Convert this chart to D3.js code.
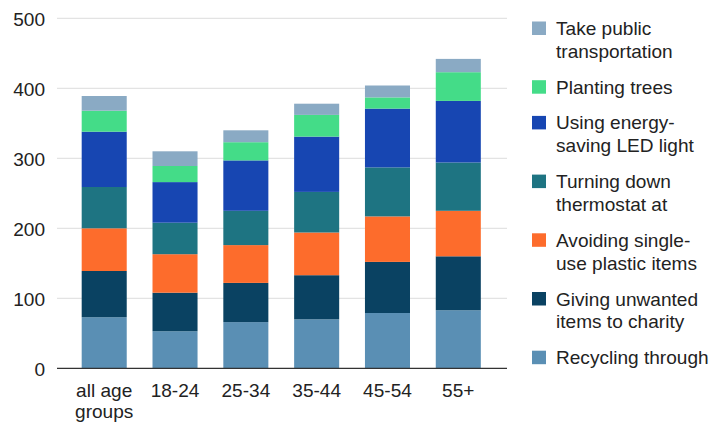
<!DOCTYPE html>
<html>
<head>
<meta charset="utf-8">
<script src="https://cdn.jsdelivr.net/npm/d3@7"></script>
<style>
  html, body { margin: 0; padding: 0; background: #fff; }
  svg { display: block; font-family: "Liberation Sans", Arial, sans-serif; }
</style>
</head>
<body>
<svg id="chart" width="711" height="425"></svg>
<script>
// Age groups along the x axis (label lines as drawn under each bar)
const categories = ["all age groups", "18-24", "25-34", "35-44", "45-54", "55+"];
const categoryLines = [["all age", "groups"], ["18-24"], ["25-34"], ["35-44"], ["45-54"], ["55+"]];

// Series values, bottom of the stack first
const recycling  = [73, 53, 66, 70, 79, 83];
const charity    = [66, 55, 56, 63, 73, 77];
const plastic    = [61, 55, 54, 61, 65, 65];
const thermostat = [59, 45, 49, 58, 70, 69];
const ledLight   = [79, 58, 72, 79, 84, 88];
const trees      = [30, 23, 26, 31, 16, 41];
const transport  = [21, 21, 17, 16, 17, 19];

const seriesKeys = ["recycling", "charity", "plastic", "thermostat", "ledLight", "trees", "transport"];
const seriesValues = [recycling, charity, plastic, thermostat, ledLight, trees, transport];
const seriesColors = ["#5a8fb4", "#0a4262", "#fd6c2c", "#1e7482", "#1746b2", "#44dc88", "#8aaac4"];

// Legend, top to bottom (reverse of stacking order)
const legendKeys = ["transport", "trees", "ledLight", "thermostat", "plastic", "charity", "recycling"];
const legendLines = [
  ["Take public", "transportation"],
  ["Planting trees"],
  ["Using energy-", "saving LED light"],
  ["Turning down", "thermostat at"],
  ["Avoiding single-", "use plastic items"],
  ["Giving unwanted", "items to charity"],
  ["Recycling through"]
];

const yTicks = [0, 100, 200, 300, 400, 500];

// Build a row-per-category table for d3.stack
const table = categories.map((c, i) => {
  const row = { category: c };
  seriesKeys.forEach((k, j) => { row[k] = seriesValues[j][i]; });
  return row;
});

const svg = d3.select("#chart");
const stretch = 1.09;
const fontSize = 17.5;

const gridLeft = 57, gridRight = 507;
const y = d3.scaleLinear().domain([0, 500]).range([368.3, 18.3]);
const x = d3.scaleBand().domain(categories).range([68.8, 493.7])
  .paddingInner(0.364).paddingOuter(0.182);
const color = d3.scaleOrdinal().domain(seriesKeys).range(seriesColors);

// Horizontal gridlines
svg.append("g").selectAll("line")
  .data(yTicks.filter(v => v > 0))
  .join("line")
  .attr("x1", gridLeft).attr("x2", gridRight)
  .attr("y1", d => y(d)).attr("y2", d => y(d))
  .attr("stroke", "#dddddd").attr("stroke-width", 1);

// Stacked bars
const stacked = d3.stack().keys(seriesKeys)(table);
svg.append("g").selectAll("g")
  .data(stacked)
  .join("g")
  .attr("fill", d => color(d.key))
  .selectAll("rect")
  .data(d => d)
  .join("rect")
  .attr("x", d => x(d.data.category))
  .attr("width", x.bandwidth())
  .attr("y", d => y(d[1]))
  .attr("height", d => y(d[0]) - y(d[1]));

// Baseline
svg.append("line")
  .attr("x1", gridLeft).attr("x2", gridRight)
  .attr("y1", y(0)).attr("y2", y(0))
  .attr("stroke", "#333333").attr("stroke-width", 1.2);

// Y axis labels
const yAxis = svg.append("g")
  .attr("transform", "translate(45,0)")
  .call(d3.axisLeft(y).tickValues(yTicks).tickSize(0).tickPadding(0));
yAxis.select(".domain").remove();
yAxis.selectAll("text")
  .attr("font-size", fontSize)
  .attr("font-family", "Liberation Sans, Arial, sans-serif")
  .attr("fill", "#222")
  .attr("dy", "0.41em")
  .attr("transform", `scale(${stretch},1)`);

// X axis labels, wrapped onto lines
const xAxis = svg.append("g")
  .attr("transform", `translate(0,${y(0)})`)
  .call(d3.axisBottom(x).tickSize(0).tickPadding(0));
xAxis.select(".domain").remove();
xAxis.selectAll("text")
  .attr("font-size", fontSize)
  .attr("font-family", "Liberation Sans, Arial, sans-serif")
  .attr("fill", "#222")
  .attr("y", 0).attr("dy", 0)
  .attr("transform", `scale(${stretch},1)`)
  .text(null)
  .each(function(d) {
    const lines = categoryLines[categories.indexOf(d)];
    d3.select(this).selectAll("tspan")
      .data(lines)
      .join("tspan")
      .attr("x", 0)
      .attr("y", (l, i) => 28.4 + i * 21.7)
      .text(l => l);
  });

// Legend
const lineH = 23, entryGap = 35.7;
let baseline = 35;
const legend = svg.append("g");
legendKeys.forEach((k, i) => {
  const lines = legendLines[i];
  legend.append("rect")
    .attr("x", 532).attr("y", baseline - 13.5)
    .attr("width", 14).attr("height", 13.5)
    .attr("fill", color(k));
  const t = legend.append("text")
    .attr("transform", `translate(556,${baseline}) scale(${stretch},1)`)
    .attr("font-size", fontSize)
    .attr("fill", "#222");
  lines.forEach((l, j) => {
    t.append("tspan").attr("x", 0).attr("y", j * lineH).text(l);
  });
  baseline += (lines.length - 1) * lineH + entryGap;
});
</script>
</body>
</html>
